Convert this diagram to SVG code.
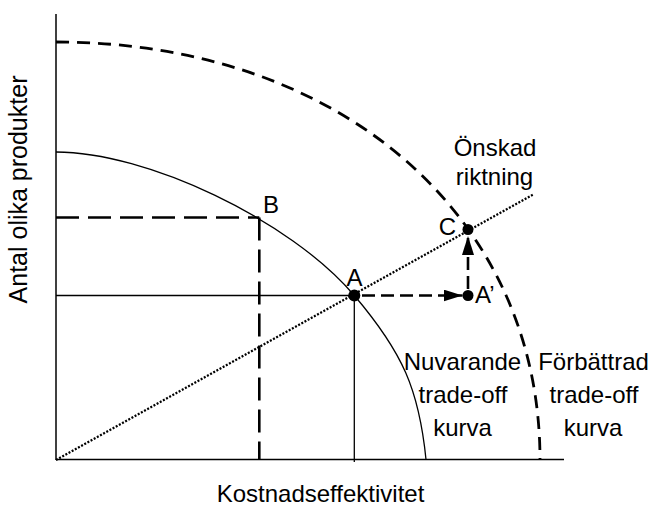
<svg xmlns="http://www.w3.org/2000/svg" width="654" height="506" viewBox="0 0 654 506">
<style>
text{font-family:"Liberation Sans",Arial,sans-serif;font-size:24px;fill:#000}
.ax{stroke:#000;stroke-width:1.5;fill:none}
.thin{stroke:#000;stroke-width:1.3;fill:none}
.dash{stroke:#000;stroke-width:2.8;fill:none;stroke-dasharray:13 8}
.dashb{stroke:#000;stroke-width:2.6;fill:none;stroke-dasharray:23 9}
.dasha{stroke:#000;stroke-width:2.6;fill:none;stroke-dasharray:13 6}
.dot{stroke:#000;stroke-width:2.2;fill:none;stroke-dasharray:2 1.6}
</style>
<defs>
<marker id="arr" viewBox="0 0 19 12" refX="19" refY="6" markerWidth="19" markerHeight="12" markerUnits="userSpaceOnUse" orient="auto">
<path d="M0,0 L19,6 L0,12 z" fill="#000"/>
</marker>
</defs>
<g id="axes">
<line class="ax" x1="56" y1="14" x2="56" y2="460"/>
<line class="ax" x1="56" y1="459.5" x2="564" y2="459.5"/>
<text x="320.5" y="502" text-anchor="middle">Kostnadseffektivitet</text>
<text transform="translate(27,189.5) rotate(-90)" x="0" y="0" text-anchor="middle" style="font-size:25px">Antal olika produkter</text>
</g>
<g id="curve-current">
<path class="thin" d="M56,152 C146,152 289.5,219.3 354.3,295.5 C402.9,352.7 419,389.8 426,459.5"/>
<text x="462.5" y="370" text-anchor="middle">Nuvarande</text>
<text x="463" y="403" text-anchor="middle">trade-off</text>
<text x="462.5" y="436" text-anchor="middle">kurva</text>
</g>
<g id="curve-improved">
<path class="dash" d="M56,42 C339.1,42 540,215.3 540,459.5"/>
<text x="593.5" y="370" text-anchor="middle">Förbättrad</text>
<text x="594" y="403" text-anchor="middle">trade-off</text>
<text x="593" y="436" text-anchor="middle">kurva</text>
</g>
<g id="direction">
<line class="dot" x1="56" y1="460" x2="534" y2="194"/>
<text x="495" y="156" text-anchor="middle">Önskad</text>
<text x="494.5" y="185" text-anchor="middle">riktning</text>
</g>
<g id="connectors">
<line class="thin" x1="56" y1="295.5" x2="354.3" y2="295.5"/>
<line class="thin" x1="354.3" y1="295.5" x2="354.3" y2="462"/>
<line class="dashb" x1="56" y1="217.5" x2="259.3" y2="217.5"/>
<line class="dashb" x1="259.3" y1="217.5" x2="259.3" y2="459"/>
<path class="dasha" d="M362,295.5 H462.5" marker-end="url(#arr)"/>
<path class="dasha" d="M468,289 V236" marker-end="url(#arr)"/>
</g>
<g id="point-B">
<text x="271" y="213" text-anchor="middle">B</text>
</g>
<g id="point-A">
<circle cx="354.3" cy="295.5" r="6" fill="#000"/>
<text x="354.5" y="286" text-anchor="middle">A</text>
</g>
<g id="point-A2">
<circle cx="468" cy="295.5" r="5.5" fill="#000"/>
<text x="475" y="303">A’</text>
</g>
<g id="point-C">
<circle cx="468" cy="229.5" r="5.5" fill="#000"/>
<text x="447.5" y="235" text-anchor="middle">C</text>
</g>
</svg>
